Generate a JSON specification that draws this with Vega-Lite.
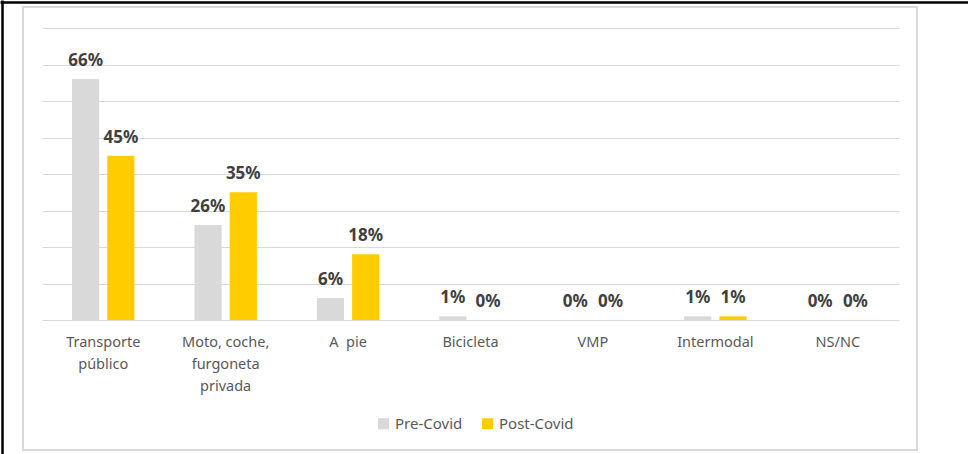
{
  "$schema": "https://vega.github.io/schema/vega-lite/v6.json",
  "width": 894,
  "height": 443,
  "autosize": {"type": "none"},
  "padding": {"left": 23, "top": 7, "right": 51, "bottom": 4},
  "background": "white",
  "config": {
    "font": "Noto Sans",
    "view": {"stroke": "#D9D9D9", "strokeWidth": 2}
  },
  "data": {
    "values": [
      {"modo": "Transporte público", "periodo": "Pre-Covid", "pct": 0.66},
      {"modo": "Transporte público", "periodo": "Post-Covid", "pct": 0.45},
      {"modo": "Moto, coche, furgoneta privada", "periodo": "Pre-Covid", "pct": 0.26},
      {"modo": "Moto, coche, furgoneta privada", "periodo": "Post-Covid", "pct": 0.35},
      {"modo": "A\u00a0 pie", "periodo": "Pre-Covid", "pct": 0.06},
      {"modo": "A\u00a0 pie", "periodo": "Post-Covid", "pct": 0.18},
      {"modo": "Bicicleta", "periodo": "Pre-Covid", "pct": 0.01},
      {"modo": "Bicicleta", "periodo": "Post-Covid", "pct": 0.0},
      {"modo": "VMP", "periodo": "Pre-Covid", "pct": 0.0},
      {"modo": "VMP", "periodo": "Post-Covid", "pct": 0.0},
      {"modo": "Intermodal", "periodo": "Pre-Covid", "pct": 0.01},
      {"modo": "Intermodal", "periodo": "Post-Covid", "pct": 0.01},
      {"modo": "NS/NC", "periodo": "Pre-Covid", "pct": 0.0},
      {"modo": "NS/NC", "periodo": "Post-Covid", "pct": 0.0}
    ]
  },
  "layer": [
    {
      "encoding": {
        "x": {
          "field": "modo",
          "type": "nominal",
          "sort": null,
          "scale": {"range": [19, 876], "paddingInner": 0.49, "paddingOuter": 0.245},
          "axis": {
            "orient": "bottom",
            "offset": -130,
            "title": null,
            "domain": true,
            "domainColor": "#D9D9D9",
            "domainWidth": 1,
            "ticks": false,
            "labelAngle": 0,
            "labelOverlap": false,
            "labelPadding": 15,
            "labelFontSize": 14.5,
            "labelColor": "#595959",
            "labelLineHeight": 22,
            "labelBaseline": "top",
            "labelExpr": "datum.value == 'Transporte público' ? ['Transporte', 'público'] : datum.value == 'Moto, coche, furgoneta privada' ? ['Moto, coche,', 'furgoneta', 'privada'] : datum.value"
          }
        },
        "xOffset": {
          "field": "periodo",
          "type": "nominal",
          "sort": ["Pre-Covid", "Post-Covid"],
          "scale": {"paddingInner": 0.229, "paddingOuter": 0}
        },
        "y": {
          "field": "pct",
          "type": "quantitative",
          "scale": {"domain": [0, 0.8], "range": [313, 21], "nice": false, "zero": true},
          "axis": {
            "orient": "right",
            "offset": -875,
            "title": null,
            "values": [0.1, 0.2, 0.3, 0.4, 0.5, 0.6, 0.7, 0.8],
            "grid": false,
            "domain": false,
            "labels": false,
            "ticks": true,
            "tickSize": 857,
            "tickColor": "#D9D9D9",
            "tickWidth": 1
          }
        }
      },
      "layer": [
        {
          "mark": {"type": "bar"},
          "encoding": {
            "color": {
              "field": "periodo",
              "type": "nominal",
              "sort": ["Pre-Covid", "Post-Covid"],
              "scale": {"domain": ["Pre-Covid", "Post-Covid"], "range": ["#D9D9D9", "#FFCC00"]},
              "legend": {
                "orient": "none",
                "legendX": 353,
                "legendY": 409,
                "direction": "horizontal",
                "title": null,
                "padding": 0,
                "symbolType": "square",
                "symbolSize": 121,
                "symbolStrokeWidth": 0,
                "labelFontSize": 15,
                "labelColor": "#595959",
                "labelOffset": 4,
                "columnPadding": 17
              }
            }
          }
        },
        {
          "mark": {
            "type": "text",
            "fontSize": 17,
            "fontWeight": "bold",
            "color": "#404040",
            "baseline": "alphabetic",
            "dy": -13
          },
          "encoding": {
            "text": {"field": "pct", "type": "quantitative", "format": ".0%"}
          }
        }
      ]
    },
    {
      "description": "Page border: its top and left black edges are drawn as axis domain lines on full-size scales.",
      "mark": {"type": "point", "opacity": 0},
      "encoding": {
        "x": {
          "datum": 0,
          "type": "quantitative",
          "scale": {"domain": [0, 1], "range": [-23, 945]},
          "axis": {
            "orient": "top",
            "offset": 5,
            "title": null,
            "grid": false,
            "ticks": false,
            "labels": false,
            "domain": true,
            "domainColor": "#000000",
            "domainWidth": 2.5
          }
        },
        "y": {
          "datum": 0,
          "type": "quantitative",
          "scale": {"domain": [0, 1], "range": [447, -7]},
          "axis": {
            "orient": "left",
            "offset": 21,
            "title": null,
            "grid": false,
            "ticks": false,
            "labels": false,
            "domain": true,
            "domainColor": "#000000",
            "domainWidth": 2.5
          }
        }
      }
    }
  ],
  "resolve": {
    "scale": {"x": "independent", "y": "independent"},
    "axis": {"x": "independent", "y": "independent"}
  }
}
